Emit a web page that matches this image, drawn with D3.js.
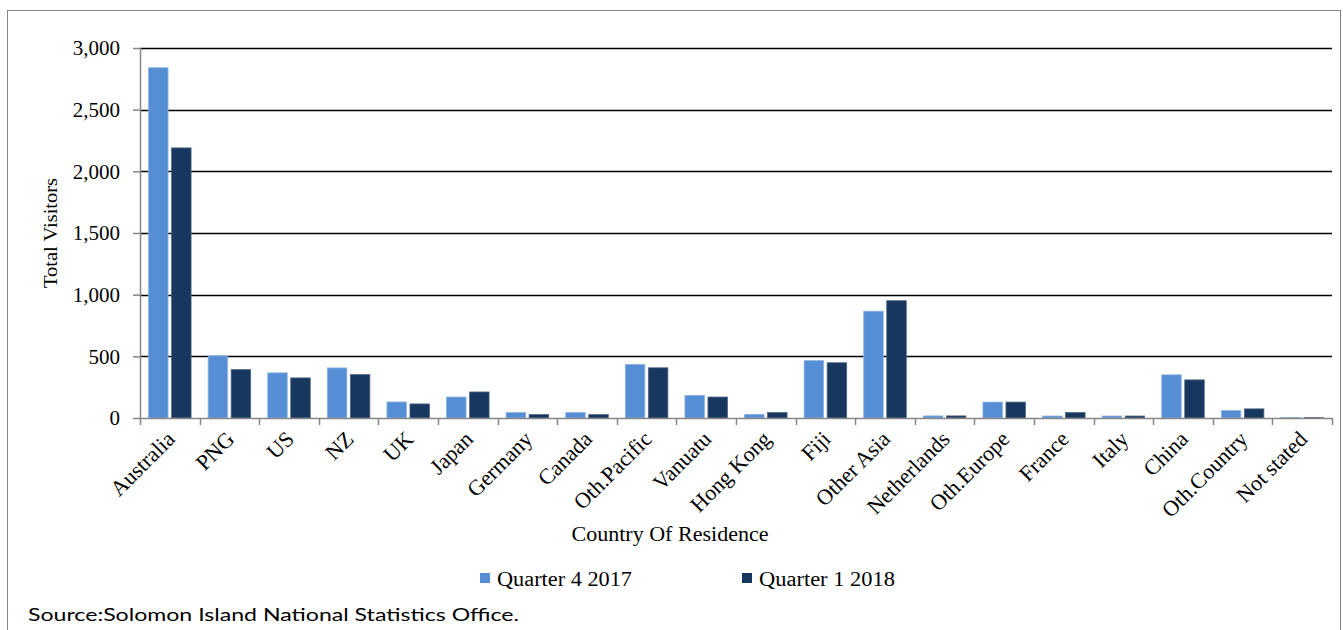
<!DOCTYPE html>
<html>
<head>
<meta charset="utf-8">
<script src="https://cdn.jsdelivr.net/npm/d3@7"></script>
<style>
  html, body { margin: 0; padding: 0; background: #fff; }
  svg { display: block; }
  text { font-family: "Liberation Serif", "Times New Roman", serif; fill: #000; }
</style>
</head>
<body>
<svg id="chart" width="1343" height="630"></svg>
<script>
const categories = ["Australia", "PNG", "US", "NZ", "UK", "Japan", "Germany", "Canada", "Oth.Pacific", "Vanuatu",
  "Hong Kong", "Fiji", "Other Asia", "Netherlands", "Oth.Europe", "France", "Italy", "China", "Oth.Country", "Not stated"];
const seriesNames = ["Quarter 4 2017", "Quarter 1 2018"];
const q4_2017 = [2840, 504, 366, 406, 130, 170, 44, 44, 435, 183, 30, 465, 866, 17, 129, 16, 16, 350, 60, 4];
const q1_2018 = [2190, 392, 325, 352, 114, 211, 28, 28, 407, 170, 44, 448, 951, 17, 129, 44, 16, 309, 74, 3];
const yTicks = [0, 500, 1000, 1500, 2000, 2500, 3000];
const colors = ["#558ED5", "#17375E"];
const strokes = ["#8DB4E2", "#4F6785"];

const svg = d3.select("#chart");
const pLeft = 140, pRight = 1332, pTop = 48, pBottom = 418;

// outer border
svg.append("rect").attr("x", 7.5).attr("y", 10.5).attr("width", 1333).attr("height", 640)
  .attr("fill", "none").attr("stroke", "#868686").attr("stroke-width", 1);

const x = d3.scaleBand().domain(categories).range([pLeft, pRight]).paddingInner(0).paddingOuter(0);
const xs = d3.scaleBand().domain(seriesNames).range([0, x.bandwidth()]).paddingInner(0.152).paddingOuter(0.37);
const y = d3.scaleLinear().domain([0, 3000]).range([pBottom, pTop]);

// gridlines
svg.append("g").selectAll("line").data(yTicks.filter(d => d > 0)).join("line")
  .attr("x1", pLeft).attr("x2", pRight)
  .attr("y1", d => Math.round(y(d)) + 0.5).attr("y2", d => Math.round(y(d)) + 0.5)
  .attr("stroke", "#000").attr("stroke-width", 1.6);

// bars
const data = [q4_2017, q1_2018];
const g = svg.append("g");
data.forEach((vals, si) => {
  g.selectAll(null).data(vals).join("rect")
    .attr("x", (d, i) => x(categories[i]) + xs(seriesNames[si]))
    .attr("width", xs.bandwidth())
    .attr("y", d => y(d))
    .attr("height", d => y(0) - y(d))
    .attr("fill", colors[si])
    .attr("stroke", strokes[si]).attr("stroke-width", 0.8);
});

// y axis
const yAxis = svg.append("g").attr("transform", `translate(${pLeft},0)`)
  .call(d3.axisLeft(y).tickValues(yTicks).tickFormat(d3.format(",")).tickSize(7).tickPadding(13));
yAxis.select(".domain").attr("stroke", "#868686").attr("stroke-width", 1.5).attr("d", `M0.5,${pTop}V${pBottom}`);
yAxis.selectAll(".tick line").attr("stroke", "#868686").attr("stroke-width", 1.5);
yAxis.selectAll(".tick text").attr("font-size", 21).attr("font-family", "Liberation Serif").attr("fill", "#000");

// x axis line + boundary ticks
svg.append("line").attr("x1", pLeft).attr("x2", pRight).attr("y1", pBottom + 0.5).attr("y2", pBottom + 0.5)
  .attr("stroke", "#868686").attr("stroke-width", 1.5);
const bounds = categories.map(c => x(c)).concat([pRight]);
svg.append("g").selectAll("line").data(bounds).join("line")
  .attr("x1", d => Math.round(d) + 0.5).attr("x2", d => Math.round(d) + 0.5)
  .attr("y1", pBottom).attr("y2", pBottom + 7)
  .attr("stroke", "#868686").attr("stroke-width", 1.5);

// x labels
svg.append("g").selectAll("text").data(categories).join("text")
  .attr("transform", d => `translate(${x(d) + x.bandwidth() / 2 + 1},${pBottom + 17}) rotate(-45)`)
  .attr("text-anchor", "end").attr("dy", "0.35em")
  .attr("font-size", 22)
  .text(d => d);

// axis titles
svg.append("text").attr("x", 670).attr("y", 541).attr("text-anchor", "middle")
  .attr("font-size", 20).attr("textLength", 197).attr("lengthAdjust", "spacingAndGlyphs")
  .text("Country Of Residence");
svg.append("text").attr("transform", "translate(57,233) rotate(-90)").attr("text-anchor", "middle")
  .attr("font-size", 19).attr("textLength", 110).attr("lengthAdjust", "spacingAndGlyphs")
  .text("Total Visitors");

// legend
const legendX = [480, 742];
const legendW = [135, 136];
seriesNames.forEach((s, i) => {
  svg.append("rect").attr("x", legendX[i]).attr("y", 573).attr("width", 10).attr("height", 10).attr("fill", colors[i]);
  svg.append("text").attr("x", legendX[i] + 17).attr("y", 586).attr("font-size", 20)
    .attr("textLength", legendW[i]).attr("lengthAdjust", "spacingAndGlyphs").text(s);
});

// source
svg.append("text").attr("x", 28).attr("y", 621).attr("font-size", 18)
  .style("font-family", "Lato, 'Open Sans', sans-serif")
  .attr("textLength", 491).attr("lengthAdjust", "spacingAndGlyphs")
  .text("Source:Solomon Island National Statistics Office.");
</script>
</body>
</html>
